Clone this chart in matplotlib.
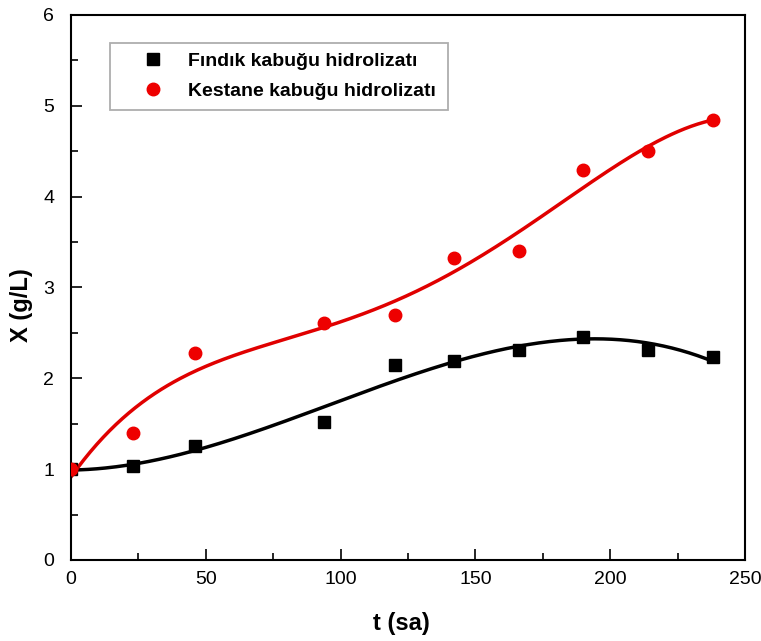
"""Biomass (X) vs time for two hydrolysates, with polynomial fit lines"""
import matplotlib
matplotlib.use("Agg")
import matplotlib.pyplot as plt
import numpy as np

plt.rcParams["font.family"] = ["Liberation Sans", "DejaVu Sans"]

t_sa = [0, 23, 46, 94, 120, 142, 166, 190, 214, 238]
x_findik = [1.0, 1.03, 1.25, 1.52, 2.15, 2.19, 2.31, 2.46, 2.31, 2.23]
x_kestane = [1.0, 1.40, 2.28, 2.61, 2.70, 3.32, 3.40, 4.29, 4.50, 4.84]

label_findik = "Fındık kabuğu hidrolizatı"
label_kestane = "Kestane kabuğu hidrolizatı"


def main():
    fig = plt.figure(figsize=(7.61, 6.41), dpi=100)
    ax = fig.add_axes([0.0933, 0.1264, 0.8857, 0.8502])

    t_fit = np.linspace(0, 238, 300)
    fit_f = np.polyval(np.polyfit(t_sa, x_findik, 3), t_fit)
    fit_k = np.polyval(np.polyfit(t_sa, x_kestane, 4), t_fit)

    ax.plot(t_fit, fit_f, color="black", lw=2.5, zorder=2)
    ax.plot(t_fit, fit_k, color="#e00000", lw=2.5, zorder=2)
    ax.plot(t_sa, x_findik, "s", color="black", ms=8, label=label_findik, zorder=3)
    ax.plot(t_sa, x_kestane, "o", color="#ee0000", ms=9, label=label_kestane, zorder=3)

    ax.set_xlim(0, 250)
    ax.set_ylim(0, 6)
    ax.set_xticks(range(0, 251, 50))
    ax.set_xticks(range(25, 250, 50), minor=True)
    ax.set_yticks(range(0, 7))
    ax.set_yticks(np.arange(0.5, 6, 1), minor=True)
    ax.tick_params(direction="in", which="major", length=8, width=1.2, labelsize=14)
    ax.tick_params(axis="x", which="major", pad=8)
    ax.tick_params(axis="y", which="major", pad=12)
    ax.tick_params(direction="in", which="minor", length=5, width=1.2)
    for s in ax.spines.values():
        s.set_linewidth(1.5)

    ax.set_xlabel("t (sa)", fontsize=17, fontweight="bold")
    ax.set_ylabel("X (g/L)", fontsize=17, fontweight="bold")
    ax.xaxis.set_label_coords(0.49, -0.095)
    ax.yaxis.set_label_coords(-0.056, 0.468)

    leg = ax.legend(loc="upper left", bbox_to_anchor=(0.058, 0.849, 0.501, 0.1),
                    mode="expand", prop={"weight": "bold", "size": 14},
                    frameon=True, fancybox=False, edgecolor="#999999",
                    borderpad=0.5, handlelength=3.4, handletextpad=0.1,
                    labelspacing=0.64, borderaxespad=0)
    leg.get_frame().set_linewidth(1.3)

    fig.savefig("out.png", dpi=100)


if __name__ == "__main__":
    main()
